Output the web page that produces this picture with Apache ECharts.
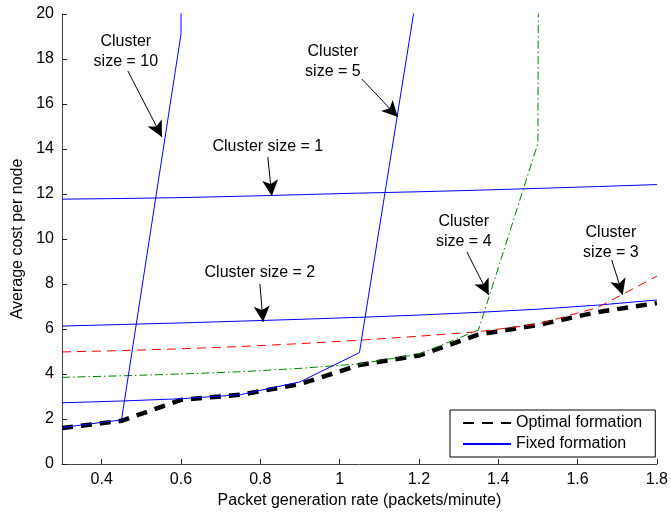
<!DOCTYPE html>
<html>
<head>
<meta charset="utf-8">
<script src="https://cdn.jsdelivr.net/npm/echarts@6/dist/echarts.min.js"></script>
<style>
html,body{margin:0;padding:0;background:#fff;}
#chart{width:671px;height:514px;}
</style>
</head>
<body>
<div id="chart"></div>
<script>
// ---- data ----
var rates = [0.3, 0.45, 0.6, 0.75, 0.9, 1.05, 1.2, 1.35, 1.5, 1.65, 1.8];
var optimal = [1.6, 1.92, 2.85, 3.08, 3.55, 4.4, 4.82, 5.75, 6.18, 6.75, 7.15];
var size1 = [11.77, 11.8, 11.84, 11.9, 11.97, 12.04, 12.1, 12.17, 12.25, 12.33, 12.42];
var size2 = [6.13, 6.2, 6.27, 6.35, 6.43, 6.52, 6.62, 6.74, 6.88, 7.06, 7.29];
var size3 = [4.98, 5.04, 5.12, 5.22, 5.35, 5.5, 5.68, 5.88, 6.22, 6.95, 8.35];
var size4 = [3.85, 3.92, 4.0, 4.1, 4.25, 4.45, 4.88, 5.95, 14.25, 1000, 1000];
var size5 = [2.72, 2.8, 2.9, 3.08, 3.65, 4.95, 21.5, null, null, null, null];
var size10 = [1.62, 1.96, 19.1, 1000, null, null, null, null, null, null, null];
var xTicks = [0.4, 0.6, 0.8, 1.0, 1.2, 1.4, 1.6, 1.8];

// annotations: text centre and arrow [from, to] in data coordinates
var notes = [
  {text: 'Cluster\nsize = 10', at: [0.461, 18.33], from: [0.466, 17.47], to: [0.552, 14.53]},
  {text: 'Cluster\nsize = 5', at: [0.983, 17.87], from: [1.056, 17.11], to: [1.147, 15.42]},
  {text: 'Cluster size = 1', at: [0.819, 14.09], from: [0.819, 13.64], to: [0.829, 11.91]},
  {text: 'Cluster size = 2', at: [0.799, 8.49], from: [0.799, 8.0], to: [0.807, 6.31]},
  {text: 'Cluster\nsize = 4', at: [1.313, 10.31], from: [1.321, 9.42], to: [1.376, 7.51]},
  {text: 'Cluster\nsize = 3', at: [1.684, 9.84], from: [1.686, 9.07], to: [1.714, 7.51]}
];

function pairs(ys) {
  return rates.map(function (x, i) { return [x, ys[i]]; });
}

var FONT = '"Liberation Sans", Arial, Helvetica, sans-serif';
var chart = echarts.init(document.getElementById('chart'));

function lineSeries(name, ys, color, width, type, z) {
  return {
    name: name, type: 'line', data: pairs(ys), symbol: 'none', showSymbol: false,
    clip: true, z: z, silent: true,
    lineStyle: {color: color, width: width, type: type, cap: 'butt'},
    itemStyle: {color: color},
    emphasis: {disabled: true}
  };
}

var optSeries = lineSeries('Optimal formation', optimal, '#000000', 4.5, [11, 8], 2);
optSeries.markLine = {
  silent: true,
  symbol: ['none', 'arrow'],
  symbolSize: [12, 16],
  label: {show: false},
  lineStyle: {color: '#000', width: 1, type: 'solid'},
  emphasis: {disabled: true},
  data: notes.map(function (n) { return [{coord: n.from}, {coord: n.to}]; })
};

var option = {
  animation: false,
  backgroundColor: '#fff',
  grid: {left: 62, right: 14, top: 14, bottom: 50},
  legend: {
    data: ['Optimal formation', 'Fixed formation'],
    orient: 'vertical', left: 450, top: 410,
    padding: [5, 13, 5, 12], itemGap: 5, itemWidth: 48, itemHeight: 16,
    borderColor: '#000', borderWidth: 1, borderRadius: 0, backgroundColor: '#fff',
    itemStyle: {opacity: 0},
    textStyle: {fontFamily: FONT, fontSize: 16, color: '#000'},
    selectedMode: false
  },
  xAxis: {
    type: 'value', min: 0.3, max: 1.8,
    name: 'Packet generation rate (packets/minute)', nameLocation: 'middle', nameGap: 17,
    nameTextStyle: {fontFamily: FONT, fontSize: 16, color: '#000'},
    axisLine: {show: true, lineStyle: {color: '#444', width: 1}},
    axisTick: {show: true, inside: true, length: 5, customValues: xTicks, lineStyle: {color: '#222'}},
    axisLabel: {customValues: xTicks, margin: 8, fontFamily: FONT, fontSize: 16, color: '#000',
      formatter: function (v) { return String(Math.round(v * 10) / 10); }},
    splitLine: {show: false}
  },
  yAxis: {
    type: 'value', min: 0, max: 20, interval: 2,
    name: 'Average cost per node', nameLocation: 'middle', nameGap: 27,
    nameTextStyle: {fontFamily: FONT, fontSize: 16, color: '#000'},
    axisLine: {show: true, lineStyle: {color: '#444', width: 1}},
    axisTick: {show: true, inside: true, length: 5, lineStyle: {color: '#222'}},
    axisLabel: {margin: 8, fontFamily: FONT, fontSize: 16, color: '#000'},
    splitLine: {show: false}
  },
  series: [
    optSeries,
    lineSeries('Fixed formation', size1, '#0000ff', 1, 'solid', 3),
    lineSeries('Fixed formation', size2, '#0000ff', 1, 'solid', 3),
    lineSeries('Cluster size = 3', size3, '#ff0000', 1, [9, 6], 3),
    lineSeries('Cluster size = 4', size4, '#008000', 1, [8, 3, 1.5, 3], 3),
    lineSeries('Fixed formation', size5, '#0000ff', 1, 'solid', 3),
    lineSeries('Fixed formation', size10, '#0000ff', 1, 'solid', 3)
  ]
};
chart.setOption(option);

var graphics = notes.map(function (n) {
  var p = chart.convertToPixel({gridIndex: 0}, n.at);
  return {
    type: 'text', x: p[0], y: p[1], silent: true, z: 10,
    style: {text: n.text, fill: '#000', font: '16px ' + FONT, align: 'center',
      verticalAlign: 'middle', lineHeight: 20}
  };
});
chart.setOption({graphic: graphics});
</script>
</body>
</html>
